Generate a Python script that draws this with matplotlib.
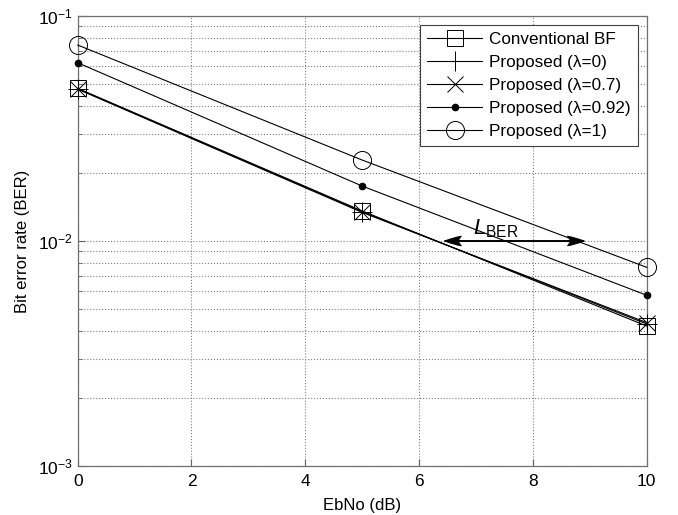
import matplotlib
matplotlib.use("Agg")
import matplotlib.pyplot as plt
from matplotlib.ticker import LogLocator, NullFormatter

plt.rcParams['font.family'] = ['Liberation Sans', 'DejaVu Sans']
plt.rcParams['mathtext.fontset'] = 'custom'
plt.rcParams['mathtext.rm'] = 'Liberation Sans'
plt.rcParams['mathtext.it'] = 'Liberation Sans:italic'

ebno = [0, 5, 10]
ber_conv = [0.0477, 0.0136, 0.00419]
ber_l0 = [0.0475, 0.0135, 0.00428]
ber_l07 = [0.0473, 0.0134, 0.00434]
ber_l092 = [0.0620, 0.01755, 0.00574]
ber_l1 = [0.0743, 0.0229, 0.00764]

labels = ['Conventional BF', 'Proposed (λ=0)', 'Proposed (λ=0.7)',
          'Proposed (λ=0.92)', 'Proposed (λ=1)']

fig = plt.figure(figsize=(6.78, 5.15), dpi=100)
ax = fig.add_axes([0.1146, 0.0951, 0.8392, 0.8738])

lw = 0.8
common = dict(lw=lw, clip_on=False, zorder=3)
ax.semilogy(ebno, ber_conv, 'k-', marker='s', ms=11, mfc='none', mec='k', mew=0.7, label=labels[0], **common)
ax.semilogy(ebno, ber_l0, 'k-', marker='+', ms=14, mec='k', mew=0.7, label=labels[1], **common)
ax.semilogy(ebno, ber_l07, 'k-', marker='x', ms=11, mec='k', mew=0.7, label=labels[2], **common)
ax.semilogy(ebno, ber_l092, 'k-', marker='o', ms=4.5, mfc='k', mec='k', label=labels[3], **common)
ax.semilogy(ebno, ber_l1, 'k-', marker='o', ms=13, mfc='none', mec='k', mew=0.7, label=labels[4], **common)

ax.set_xlim(0, 10)
ax.set_ylim(1e-3, 1e-1)
ax.set_xticks([0, 2, 4, 6, 8, 10])
ax.yaxis.set_major_locator(LogLocator(base=10, numticks=10))
ax.yaxis.set_minor_locator(LogLocator(base=10, subs=range(2, 10), numticks=10))
ax.yaxis.set_minor_formatter(NullFormatter())

ax.grid(True, which='major', linestyle=':', color='#808080', lw=0.8)
ax.grid(True, which='minor', axis='y', linestyle=':', color='#808080', lw=0.8)
ax.tick_params(which='both', direction='in', labelsize=12.5, colors='#606060', labelcolor='black')
ax.tick_params(which='major', length=5)
ax.tick_params(which='minor', length=3)
ax.tick_params(axis='x', pad=6)
for s in ax.spines.values():
    s.set_color('#707070')
    s.set_linewidth(0.9)

ax.set_xlabel('EbNo (dB)', fontsize=12, labelpad=6)
ax.set_ylabel('Bit error rate (BER)', fontsize=12, labelpad=6)

astyle = 'fancy,head_length=1.2,head_width=0.7,tail_width=0.01'
ax.annotate('', xy=(6.4, 0.01), xytext=(8.95, 0.01),
            arrowprops=dict(arrowstyle=astyle, color='k', lw=0.6))
ax.annotate('', xy=(8.95, 0.01), xytext=(6.4, 0.01),
            arrowprops=dict(arrowstyle=astyle, color='k', lw=0.6))
ax.text(7.35, 0.0114, r'$\mathit{L}_{\mathrm{BER}}$', fontsize=16, ha='center', va='center')

leg = ax.legend(loc='upper right', fontsize=12.3, fancybox=False, framealpha=1,
                edgecolor='#404040', handlelength=3.2, borderaxespad=0.5,
                labelspacing=0.46, handletextpad=0.4, borderpad=0.45)
leg.get_frame().set_linewidth(0.8)

fig.savefig('out.png', dpi=100)
